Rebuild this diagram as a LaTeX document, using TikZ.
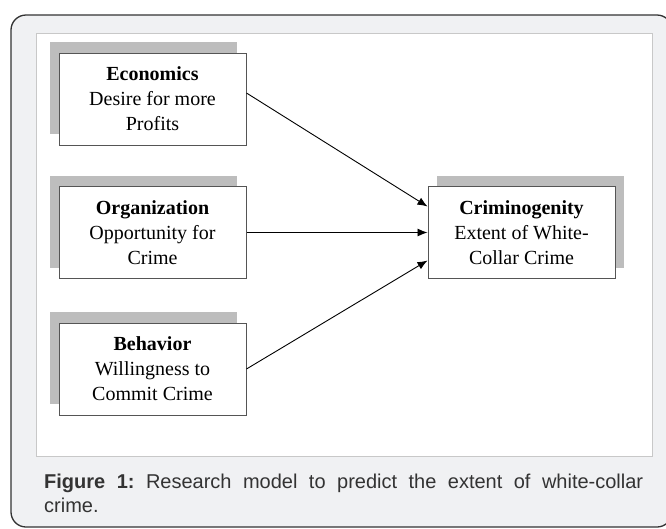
\documentclass[tikz,border=0pt]{standalone}
\usepackage{fontspec}
\setmainfont{Liberation Serif}
\newfontfamily\capfont{Liberation Sans}
\usetikzlibrary{calc,arrows.meta}
\definecolor{framegray}{HTML}{F0F1F3}
\definecolor{panelline}{HTML}{C8C8C8}
\definecolor{shadegray}{HTML}{BDBDBD}
\definecolor{boxline}{HTML}{555555}
\definecolor{captext}{HTML}{333333}

\begin{document}
\begin{tikzpicture}[x=1pt,y=-1pt,
    factor/.style={draw=boxline, line width=1pt, fill=white, minimum width=187pt,
        minimum height=92pt, inner sep=0pt, align=center,
        font=\fontsize{20}{25}\selectfont},
    link/.style={-{Latex[length=10pt,width=8pt]}, line width=0.9pt}]
    \def\halfw{93.5}
    \def\halfh{46}
    \def\shx{9}
    \def\shy{11}

    \useasboundingbox (0,0) rectangle (666,528);

    % Outer frame and white panel
    \draw[draw=captext, line width=1.3pt, fill=framegray, rounded corners=15pt] (11,15) rectangle (672,527);
    \draw[draw=panelline, fill=white] (36,33) rectangle (652,456);

    \coordinate (eco-c) at (152.5,99);
    \coordinate (org-c) at (152.5,232.5);
    \coordinate (beh-c) at (152.5,369);
    \coordinate (crim-c) at (521.5,232.5);

    % Shadows
    \foreach \c in {eco-c,org-c,beh-c}
        \fill[shadegray] ($(\c)+(-\halfw-\shx,-\halfh-\shy)$) rectangle ($(\c)+(\halfw-\shx,\halfh-\shy)$);
    \fill[shadegray] ($(crim-c)+(-\halfw+\shx,-\halfh-\shy)$) rectangle ($(crim-c)+(\halfw+\shx,\halfh-\shy)$);

    % Boxes
    \node[factor] (eco) at (eco-c) {\textbf{Economics}\\Desire for more\\Profits};
    \node[factor] (org) at (org-c) {\textbf{Organization}\\Opportunity for\\Crime};
    \node[factor] (beh) at (beh-c) {\textbf{Behavior}\\Willingness to\\Commit Crime};
    \node[factor] (crim) at (crim-c) {\textbf{Criminogenity}\\Extent of White-\\Collar Crime};

    % Arrows
    \coordinate (eco-out) at ($(eco.east)+(0,-6)$);
    \coordinate (crim-in1) at ($(crim.west)+(0,-26)$);
    \coordinate (crim-in3) at ($(crim.west)+(0,28)$);
    \draw[link] (eco-out) -- (crim-in1);
    \draw[link] (org.east) -- (crim.west);
    \draw[link] (beh.east) -- (crim-in3);

    % Caption
    \node[anchor=north west, text width=599pt, align=justify, inner sep=0pt, text=captext,
        font=\capfont\fontsize{20}{24}\selectfont\frenchspacing] (cap) at (44,474)
        {\textbf{Figure 1:} Research model to predict the extent of white-collar\linebreak crime.};
\end{tikzpicture}
\end{document}
